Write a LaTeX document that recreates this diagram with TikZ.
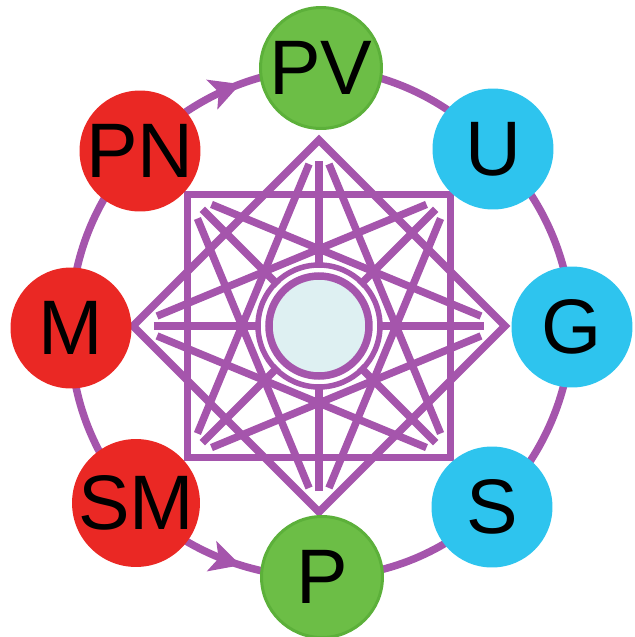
\documentclass[tikz,border=0pt]{standalone}
\usepackage{fontspec}
\setmainfont{Liberation Sans}
\usetikzlibrary{arrows.meta,decorations.markings,backgrounds}
\definecolor{lila}{RGB}{165,85,172}
\definecolor{rood}{RGB}{234,40,36}
\definecolor{groen}{RGB}{108,190,70}
\definecolor{groenrand}{RGB}{92,176,58}
\definecolor{blauw}{RGB}{46,196,238}
\definecolor{licht}{RGB}{222,240,242}
\begin{document}
\begin{tikzpicture}[
x=0.02cm, y=0.02cm,
line width=0.15cm
]

\tikzstyle{k} = [circle, minimum size=2.42cm, inner sep=0pt, font=\fontsize{44}{44}\selectfont]
\tikzstyle{r} = [k, fill=rood]
\tikzstyle{g} = [k, fill=groen, draw=groenrand, line width=0.06cm]
\tikzstyle{b} = [k, fill=blauw]
\tikzstyle{boog} = [draw=lila, line width=0.15cm, looseness=0.885]
\tikzstyle{pijl} = [boog, postaction={decorate},
  decoration={markings, mark=at position -47pt with {\arrow{Stealth[length=0.6cm,width=0.62cm,inset=0.14cm]}}}]

\useasboundingbox (-319,-311) rectangle (316,326);

% ster in het midden
\draw[lila] (90:186) -- (0:186) -- (270:186) -- (180:186) -- cycle;
\draw[lila] (-131.5,-131.5) rectangle (131.5,131.5);
\foreach \a in {0,45,...,315} {
  \draw[lila] (\a:165) -- (\a:58);
  \draw[lila, shorten <=0.52cm, shorten >=0.52cm] (\a:186) -- (\a+135:186);
}
\draw[lila, line width=0.11cm] (0,0) circle (61);
\draw[lila, fill=licht] (0,0) circle (50);

% kring
\node[g] (PV) at (2,258) {PV};
\node[b] (U) at (174,177) {U};
\node[b] (G) at (253,-1) {G};
\node[b] (S) at (173,-181) {S};
\node[g] (P) at (3,-251) {P};
\node[r] (SM) at (-183,-177) {SM};
\node[r] (M) at (-248,-2) {M};
\node[r] (PN) at (-179,175) {PN};

\begin{scope}[on background layer]
\draw[pijl] (PN.center) to[bend left=22.5] (PV.center);
\draw[boog] (PV.center) to[bend left=22.5] (U.center);
\draw[boog] (U.center) to[bend left=22.5] (G.center);
\draw[boog] (G.center) to[bend left=22.5] (S.center);
\draw[boog] (S.center) to[bend left=22.5] (P.center);
\draw[pijl] (SM.center) to[bend right=22.5] (P.center);
\draw[boog] (SM.center) to[bend left=22.5] (M.center);
\draw[boog] (M.center) to[bend left=22.5] (PN.center);
\end{scope}
\end{tikzpicture}
\end{document}
